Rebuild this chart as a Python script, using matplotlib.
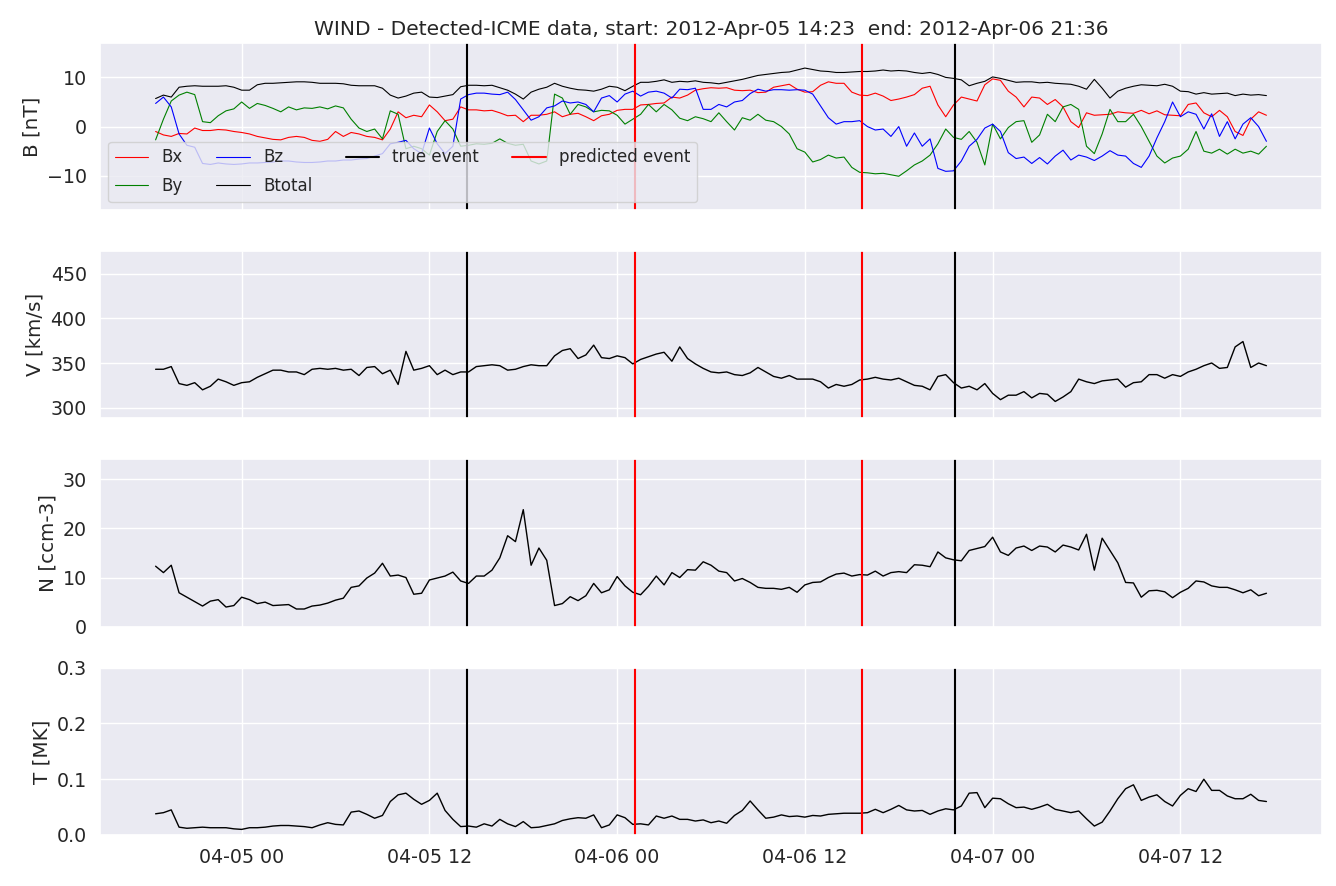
import matplotlib
matplotlib.use("Agg")
import matplotlib.pyplot as plt
import matplotlib.dates as mdates
import pandas as pd
import seaborn as sns

# 30-min samples, 2012-04-04 18:30 .. 2012-04-07 17:30
start_time = "2012-04-04 18:30"

btot = [5.7, 6.4, 6.0, 8.0, 8.2, 8.3, 8.2, 8.2, 8.2, 8.3, 8.0,
        7.4, 7.4, 8.5, 8.8, 8.8, 8.9, 9.0, 9.1, 9.1, 9.0, 8.8, 8.8, 8.8, 8.7, 8.4, 8.3, 8.3, 8.3, 7.8, 6.4, 5.8, 6.2, 6.8, 7.0,
        6.0, 5.9, 6.2, 6.5, 8.1, 8.4, 8.4, 8.3, 8.4, 7.9, 7.4, 6.6, 5.6, 7.0, 7.6, 8.0, 8.8, 8.2, 7.8, 7.5, 7.4, 7.2, 7.6, 8.2,
        8.0, 7.3, 8.2, 9.0, 9.0, 9.2, 9.5, 9.0, 9.2, 9.1, 9.3, 9.0, 8.9, 8.7, 9.0, 9.3, 9.6, 10.0, 10.4, 10.6, 10.8, 11.0, 11.1, 11.5,
        11.9, 11.6, 11.3, 11.2, 11.0, 11.0, 11.1, 11.2, 11.2, 11.3, 11.5, 11.3, 11.4, 11.3, 11.0, 10.8, 11.0, 10.6, 10.0, 9.8, 9.5, 8.3, 8.8, 9.2,
        10.1, 9.8, 9.4, 9.0, 9.1, 9.1, 8.9, 9.0, 8.8, 8.7, 8.6, 8.2, 7.6, 9.6, 7.8, 5.8, 7.2, 7.8, 8.2, 8.5, 8.4, 8.3, 8.6, 8.2,
        7.2, 7.1, 6.6, 6.9, 6.6, 6.7, 6.8, 6.3, 6.6, 6.4, 6.5, 6.3]

bx = [-1.0, -1.7, -2.0, -1.4, -1.5, -0.3, -0.8, -0.8, -0.6, -0.7, -1.0,
      -1.2, -1.5, -2.0, -2.3, -2.6, -2.7, -2.2, -2.0, -2.2, -2.8, -3.0, -2.6, -1.0, -2.0, -1.2, -1.5, -2.0, -2.2, -2.7, -0.5, 3.0, 1.8, 2.3, 2.0,
      4.4, 3.0, 1.2, 1.5, 4.0, 3.4, 3.4, 3.2, 3.3, 2.8, 2.2, 2.3, 1.0, 2.3, 2.3, 2.5, 3.0, 2.0, 2.5, 2.7, 2.0, 1.2, 2.2, 2.5,
      3.3, 3.5, 3.5, 4.4, 4.5, 4.7, 4.8, 6.0, 5.8, 6.4, 7.4, 7.7, 7.9, 7.8, 7.9, 7.4, 7.3, 7.4, 6.9, 7.0, 8.0, 8.3, 8.6, 7.6,
      7.0, 7.1, 8.4, 9.1, 8.8, 8.8, 7.0, 6.4, 6.3, 6.8, 6.2, 5.3, 5.6, 6.0, 6.5, 7.8, 8.2, 4.4, 2.0, 4.4, 6.0, 5.6, 5.2, 8.5,
      9.7, 9.4, 7.2, 6.0, 4.0, 6.0, 5.8, 4.5, 5.5, 4.0, 1.0, -0.2, 2.8, 2.3, 2.4, 2.5, 3.0, 2.8, 2.7, 3.3, 2.6, 3.2, 2.4, 2.3,
      2.2, 4.5, 4.8, 2.8, 2.0, 3.3, 2.0, -1.0, -1.8, 1.5, 3.0, 2.3]

by = [-2.7, 1.5, 5.2, 6.4, 7.0, 6.5, 1.0, 0.8, 2.2, 3.2, 3.6,
      5.0, 3.7, 4.7, 4.3, 3.7, 3.0, 4.0, 3.4, 3.8, 3.7, 4.0, 3.6, 4.2, 3.8, 1.5, -0.3, -1.0, -0.5, -2.5, 3.2, 2.5, -4.5, -4.0, -4.5,
      -5.8, -1.0, 1.2, -0.5, -4.0, -3.8, -3.5, -3.6, -3.4, -2.5, -3.4, -3.8, -3.6, -7.0, -7.6, -7.0, 6.6, 5.8, 2.5, 4.5, 4.0, 3.0, 3.3, 3.2,
      2.3, 0.5, 1.5, 2.5, 4.5, 3.0, 4.5, 3.4, 1.7, 1.2, 2.0, 1.6, 1.0, 2.8, 1.0, -0.7, 1.8, 1.3, 2.5, 1.3, 1.0, 0.0, -1.5, -4.5,
      -5.2, -7.2, -6.7, -5.8, -6.4, -6.2, -8.3, -9.3, -9.4, -9.6, -9.5, -9.8, -10.1, -9.0, -7.8, -7.0, -5.8, -3.5, -0.5, -2.2, -2.6, -1.0, -3.2, -7.8,
      0.5, -2.5, -0.2, 1.0, 1.2, -3.2, -1.7, 2.5, 1.0, 4.0, 4.5, 3.5, -4.0, -5.5, -1.5, 3.5, 1.0, 1.0, 2.5, 0.0, -3.0, -6.0, -7.4, -6.4,
      -6.0, -4.6, -1.0, -5.0, -5.4, -4.6, -5.6, -4.6, -5.4, -5.0, -5.6, -4.0]

bz = [4.7, 6.0, 4.0, -1.5, -3.8, -4.2, -7.5, -7.7, -7.4, -7.6, -7.7,
      -7.6, -7.4, -7.4, -7.3, -7.2, -7.0, -7.0, -7.2, -7.3, -7.3, -7.2, -7.0, -7.0, -6.8, -6.8, -6.6, -6.5, -6.0, -5.5, -3.5, -3.2, -2.8, -4.5, -5.5,
      -0.3, -3.5, -5.5, -4.0, 5.6, 6.5, 6.8, 6.8, 6.6, 6.5, 7.0, 5.5, 3.4, 1.3, 2.0, 3.8, 4.2, 5.2, 4.8, 5.0, 4.5, 3.0, 5.8, 6.3,
      5.0, 6.6, 7.2, 6.2, 7.0, 7.2, 6.8, 5.8, 7.6, 7.5, 7.8, 3.5, 3.5, 4.5, 4.0, 5.0, 5.3, 6.7, 7.6, 7.2, 7.5, 7.5, 7.4, 7.5,
      7.4, 6.6, 4.2, 1.8, 0.5, 1.0, 1.0, 1.2, 0.0, -0.7, -0.5, -2.0, 0.0, -4.0, -1.3, -4.0, -2.5, -8.5, -9.1, -9.0, -7.0, -4.0, -2.6, -0.3,
      0.5, -1.0, -5.3, -6.5, -6.2, -7.5, -6.3, -7.6, -6.0, -4.8, -6.8, -5.8, -6.2, -6.9, -6.0, -4.9, -5.8, -6.0, -7.5, -8.3, -6.0, -2.3, 1.0, 5.0,
      2.0, 3.0, 2.5, -0.5, 2.6, -2.0, 1.0, -2.5, 0.5, 1.8, 0.0, -3.0]

vel = [343, 343, 346, 327, 325, 328, 320, 324, 332, 329, 325,
       328, 329, 334, 338, 342, 342, 340, 340, 337, 343, 344, 343, 344, 342, 343, 336, 345, 346, 338, 342, 326, 363, 342, 344,
       347, 337, 342, 337, 340, 340, 346, 347, 348, 347, 342, 343, 346, 348, 347, 347, 358, 364, 366, 355, 359, 370, 356, 355,
       358, 356, 349, 354, 357, 360, 362, 352, 368, 355, 349, 344, 340, 339, 340, 337, 336, 339, 345, 340, 335, 333, 336, 332,
       332, 332, 329, 322, 326, 324, 326, 331, 332, 334, 332, 331, 333, 329, 325, 324, 320, 335, 337, 328, 322, 324, 320, 327,
       316, 309, 314, 314, 318, 311, 316, 315, 307, 312, 318, 332, 329, 327, 330, 331, 332, 323, 328, 329, 337, 337, 333, 337,
       335, 340, 343, 347, 350, 344, 345, 368, 374, 345, 350, 347]

dens = [12.3, 11.0, 12.5, 6.9, 6.0, 5.1, 4.2, 5.2, 5.5, 4.0, 4.3,
        6.0, 5.5, 4.7, 5.0, 4.3, 4.4, 4.5, 3.6, 3.6, 4.2, 4.4, 4.8, 5.4, 5.8, 8.0, 8.3, 9.9, 10.9, 12.9, 10.3, 10.5, 10.0, 6.6, 6.8,
        9.5, 9.9, 10.3, 11.1, 9.3, 8.8, 10.3, 10.3, 11.5, 14.0, 18.5, 17.3, 23.8, 12.5, 16.0, 13.5, 4.3, 4.7, 6.1, 5.3, 6.3, 8.8, 6.9, 7.5,
        10.2, 8.3, 7.0, 6.5, 8.2, 10.3, 8.5, 11.0, 10.0, 11.6, 11.5, 13.2, 12.5, 11.3, 11.0, 9.3, 9.8, 9.0, 8.0, 7.8, 7.8, 7.6, 8.0, 7.0,
        8.5, 9.0, 9.1, 10.0, 10.7, 10.9, 10.3, 10.6, 10.5, 11.3, 10.3, 11.0, 11.2, 11.0, 12.6, 12.5, 12.2, 15.2, 14.0, 13.6, 13.4, 15.5, 15.9, 16.3,
        18.2, 15.2, 14.5, 16.0, 16.4, 15.5, 16.4, 16.2, 15.2, 16.6, 16.2, 15.6, 18.8, 11.5, 18.0, 15.5, 13.0, 9.0, 8.9, 6.0, 7.3, 7.4, 7.1, 5.9,
        7.0, 7.8, 9.3, 9.1, 8.3, 8.0, 8.0, 7.5, 6.9, 7.5, 6.3, 6.8]

temp = [0.038, 0.040, 0.045, 0.014, 0.012, 0.013, 0.014, 0.013, 0.013, 0.013, 0.011,
        0.010, 0.013, 0.013, 0.014, 0.016, 0.017, 0.017, 0.016, 0.015, 0.013, 0.018, 0.022, 0.019, 0.018, 0.041, 0.043, 0.037, 0.030, 0.035, 0.060, 0.072, 0.075, 0.064, 0.055,
        0.062, 0.075, 0.044, 0.028, 0.015, 0.016, 0.014, 0.020, 0.016, 0.028, 0.020, 0.015, 0.024, 0.013, 0.014, 0.017, 0.020, 0.026, 0.029, 0.031, 0.030, 0.036, 0.013, 0.018,
        0.036, 0.031, 0.019, 0.020, 0.018, 0.034, 0.030, 0.034, 0.028, 0.028, 0.025, 0.027, 0.022, 0.025, 0.021, 0.035, 0.044, 0.061, 0.045, 0.030, 0.032, 0.036, 0.033, 0.034,
        0.032, 0.035, 0.034, 0.037, 0.038, 0.039, 0.039, 0.039, 0.040, 0.046, 0.040, 0.046, 0.053, 0.045, 0.043, 0.044, 0.037, 0.043, 0.047, 0.045, 0.052, 0.075, 0.076, 0.049,
        0.066, 0.065, 0.056, 0.049, 0.050, 0.046, 0.050, 0.055, 0.046, 0.043, 0.040, 0.043, 0.029, 0.016, 0.023, 0.043, 0.065, 0.083, 0.090, 0.062, 0.068, 0.072, 0.060, 0.052,
        0.071, 0.083, 0.078, 0.100, 0.080, 0.080, 0.070, 0.065, 0.065, 0.073, 0.062, 0.060]

true_event = ["2012-04-05 14:23", "2012-04-06 21:36"]
pred_event = ["2012-04-06 01:10", "2012-04-06 15:40"]

times = pd.date_range(start_time, periods=len(btot), freq="30min")
true_event = pd.to_datetime(true_event)
pred_event = pd.to_datetime(pred_event)

sns.set_theme(style="darkgrid")
plt.rcParams["font.family"] = ["DejaVu Sans"]

fig, axes = plt.subplots(4, 1, figsize=(13.36, 8.86), sharex=True)
fig.subplots_adjust(left=0.0749, right=0.9895, top=0.9515, bottom=0.0576, hspace=0.2455)

ax = axes[0]
ax.plot(times, bx, color="red", lw=0.8, label="Bx")
ax.plot(times, by, color="green", lw=0.8, label="By")
ax.plot(times, bz, color="blue", lw=0.8, label="Bz")
ax.plot(times, btot, color="black", lw=0.8, label="Btotal")
ax.set_ylim(-17, 17)
ax.set_ylabel("B [nT]", fontsize=14.3)

panels = [(axes[1], vel, "V [km/s]", (288, 475)),
          (axes[2], dens, "N [ccm-3]", (0, 34)),
          (axes[3], temp, "T [MK]", (0, 0.3))]
for a, vals, lab, lim in panels:
    a.plot(times, vals, color="black", lw=1.0)
    a.set_ylim(*lim)
    a.set_ylabel(lab, fontsize=14.3)
axes[1].set_yticks([300, 350, 400, 450])
axes[2].set_yticks([0, 10, 20, 30])
axes[3].set_yticks([0.0, 0.1, 0.2, 0.3])

for i, a in enumerate(axes):
    for j, t in enumerate(true_event):
        a.axvline(t, color="black", lw=1.5, label="true event" if (i == 0 and j == 0) else None)
    for j, t in enumerate(pred_event):
        a.axvline(t, color="red", lw=1.5, label="predicted event" if (i == 0 and j == 0) else None)
    a.tick_params(labelsize=13.7)

axes[0].legend(loc="lower left", ncol=4, fontsize=12, labelspacing=0.65)
axes[0].set_title("WIND - Detected-ICME data, start: 2012-Apr-05 14:23  end: 2012-Apr-06 21:36",
                  fontsize=14.5)

axes[3].xaxis.set_major_locator(mdates.HourLocator(byhour=[0, 12]))
axes[3].xaxis.set_major_formatter(mdates.DateFormatter("%m-%d %H"))

plt.savefig("out.png", dpi=100)
